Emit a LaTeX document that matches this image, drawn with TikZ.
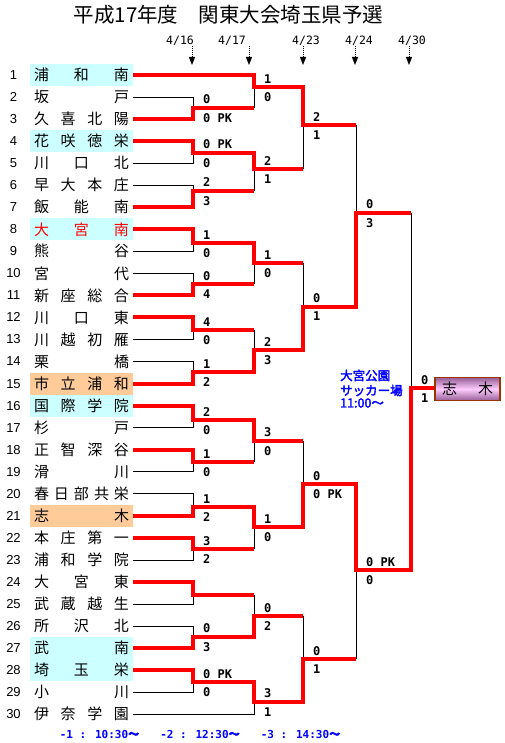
\documentclass[tikz,border=0pt]{standalone}
\usepackage{fontspec}
\usepackage{tikz}
\usetikzlibrary{positioning,arrows.meta}
\newfontfamily\jp{Noto Sans CJK JP}
\newfontfamily\jpb[FakeBold=2.5]{Noto Sans CJK JP}
\newfontfamily\mono{DejaVu Sans Mono}
\newfontfamily\arial{Liberation Sans}
\definecolor{mizu}{RGB}{204,255,255}
\definecolor{dai}{RGB}{255,204,153}
\definecolor{fuchi}{RGB}{153,51,0}
\definecolor{murasaki}{RGB}{150,95,150}
\definecolor{momo}{RGB}{255,204,255}
\definecolor{ao}{RGB}{0,0,255}
% spread the characters of a name over the box
\def\tnstep#1#2{#1\ifx\relax#2\else\hfill\expandafter\tnstep\expandafter#2\fi}
\newcommand\teamname[1]{\makebox[95pt][s]{\tnstep#1\relax}}

\begin{document}
\begin{tikzpicture}[x=1pt,y=-1pt,
  team/.style={minimum width=103pt,minimum height=22pt,inner sep=0pt,font=\jp\fontsize{15}{15}\selectfont},
  num/.style={inner sep=0pt,font=\arial\fontsize{13}{13}\selectfont},
  score/.style={inner sep=0pt,font=\mono\bfseries\fontsize{12}{12}\selectfont},
  up/.style={score,above right=3.5pt and 10pt of #1},
  dn/.style={score,below right=5.5pt and 10pt of #1},
  day/.style={inner sep=0pt,font=\mono\fontsize{11.5}{11.5}\selectfont},
  dayarrow/.style={line width=1pt,dash pattern=on 1pt off 1pt,-{Triangle[width=6pt,length=8pt]}},
  time/.style={inner sep=0pt,text=ao,font=\mono\bfseries\fontsize{11}{11}\selectfont},
  place/.style={inner sep=0pt,anchor=west,text=ao,font=\jpb\fontsize{12.5}{12.5}\selectfont},
  win/.style={draw=red,line width=4pt},
  lose/.style={draw=black,line width=0.8pt}]
\path[fill=white] (0,0) rectangle (504,743);

\node[inner sep=0pt,font=\jp\fontsize{20.5}{20.5}\selectfont] (title) at (228.5,15) {平成17年度　関東大会埼玉県予選};

\node[day] (d1) at (180,41) {4/16};
\node[day] (d2) at (232,41) {4/17};
\node[day] (d3) at (306,41) {4/23};
\node[day] (d4) at (359,41) {4/24};
\node[day] (d5) at (412,41) {4/30};
\coordinate (p1) at (192,65);
\coordinate (p2) at (249,65);
\coordinate (p3) at (303,65);
\coordinate (p4) at (355,65);
\coordinate (p5) at (409,65);
\draw[dayarrow] (d1.south -| p1) -- (p1);
\draw[dayarrow] (d2.south -| p2) -- (p2);
\draw[dayarrow] (d3.south -| p3) -- (p3);
\draw[dayarrow] (d4.south -| p4) -- (p4);
\draw[dayarrow] (d5.south -| p5) -- (p5);

% teams
\node[num] (n1) at (13.5,75) {1};      \node[team,fill=mizu] (t1) at (81.5,75) {\teamname{浦和南}};
\node[num] (n2) at (13.5,97) {2};      \node[team] (t2) at (81.5,97) {\teamname{坂戸}};
\node[num] (n3) at (13.5,119.1) {3};   \node[team] (t3) at (81.5,119.1) {\teamname{久喜北陽}};
\node[num] (n4) at (13.5,141.1) {4};   \node[team,fill=mizu] (t4) at (81.5,141.1) {\teamname{花咲徳栄}};
\node[num] (n5) at (13.5,163.2) {5};   \node[team] (t5) at (81.5,163.2) {\teamname{川口北}};
\node[num] (n6) at (13.5,185.2) {6};   \node[team] (t6) at (81.5,185.2) {\teamname{早大本庄}};
\node[num] (n7) at (13.5,207.2) {7};   \node[team] (t7) at (81.5,207.2) {\teamname{飯能南}};
\node[num] (n8) at (13.5,229.3) {8};   \node[team,fill=mizu,text=red] (t8) at (81.5,229.3) {\teamname{大宮南}};
\node[num] (n9) at (13.5,251.3) {9};   \node[team] (t9) at (81.5,251.3) {\teamname{熊谷}};
\node[num] (n10) at (13.5,273.4) {10}; \node[team] (t10) at (81.5,273.4) {\teamname{宮代}};
\node[num] (n11) at (13.5,295.4) {11}; \node[team] (t11) at (81.5,295.4) {\teamname{新座総合}};
\node[num] (n12) at (13.5,317.4) {12}; \node[team] (t12) at (81.5,317.4) {\teamname{川口東}};
\node[num] (n13) at (13.5,339.5) {13}; \node[team] (t13) at (81.5,339.5) {\teamname{川越初雁}};
\node[num] (n14) at (13.5,361.5) {14}; \node[team] (t14) at (81.5,361.5) {\teamname{栗橋}};
\node[num] (n15) at (13.5,383.6) {15}; \node[team,fill=dai] (t15) at (81.5,383.6) {\teamname{市立浦和}};
\node[num] (n16) at (13.5,405.6) {16}; \node[team,fill=mizu] (t16) at (81.5,405.6) {\teamname{国際学院}};
\node[num] (n17) at (13.5,427.6) {17}; \node[team] (t17) at (81.5,427.6) {\teamname{杉戸}};
\node[num] (n18) at (13.5,449.7) {18}; \node[team] (t18) at (81.5,449.7) {\teamname{正智深谷}};
\node[num] (n19) at (13.5,471.7) {19}; \node[team] (t19) at (81.5,471.7) {\teamname{滑川}};
\node[num] (n20) at (13.5,493.8) {20}; \node[team] (t20) at (81.5,493.8) {\teamname{春日部共栄}};
\node[num] (n21) at (13.5,515.8) {21}; \node[team,fill=dai] (t21) at (81.5,515.8) {\teamname{志木}};
\node[num] (n22) at (13.5,537.8) {22}; \node[team] (t22) at (81.5,537.8) {\teamname{本庄第一}};
\node[num] (n23) at (13.5,559.9) {23}; \node[team] (t23) at (81.5,559.9) {\teamname{浦和学院}};
\node[num] (n24) at (13.5,581.9) {24}; \node[team] (t24) at (81.5,581.9) {\teamname{大宮東}};
\node[num] (n25) at (13.5,604) {25};   \node[team] (t25) at (81.5,604) {\teamname{武蔵越生}};
\node[num] (n26) at (13.5,626) {26};   \node[team] (t26) at (81.5,626) {\teamname{所沢北}};
\node[num] (n27) at (13.5,648) {27};   \node[team,fill=mizu] (t27) at (81.5,648) {\teamname{武南}};
\node[num] (n28) at (13.5,670.1) {28}; \node[team,fill=mizu] (t28) at (81.5,670.1) {\teamname{埼玉栄}};
\node[num] (n29) at (13.5,692.1) {29}; \node[team] (t29) at (81.5,692.1) {\teamname{小川}};
\node[num] (n30) at (13.5,714.2) {30}; \node[team] (t30) at (81.5,714.2) {\teamname{伊奈学園}};

% match points
\coordinate (a1) at (193,107.7);  \coordinate (a2) at (193,152.7);  \coordinate (a3) at (193,190.7);
\coordinate (a4) at (193,242.7);  \coordinate (a5) at (193,284.3);  \coordinate (a6) at (193,330);
\coordinate (a7) at (193,372.3);  \coordinate (a8) at (193,420);    \coordinate (a9) at (193,461.7);
\coordinate (a10) at (193,507.3); \coordinate (a11) at (193,549);   \coordinate (a12) at (193,595);
\coordinate (a13) at (193,636.7); \coordinate (a14) at (193,682.3);
\coordinate (b1) at (254,87.3);   \coordinate (b2) at (254,169.3);  \coordinate (b3) at (254,263.3);
\coordinate (b4) at (254,350);    \coordinate (b5) at (254,440.7);  \coordinate (b6) at (254,526.7);
\coordinate (b7) at (254,616);    \coordinate (b8) at (254,701.7);
\coordinate (c1) at (303,125);    \coordinate (c2) at (303,306.5);  \coordinate (c3) at (303,484);
\coordinate (c4) at (303,659);
\coordinate (e1) at (356,212.7);  \coordinate (e2) at (356,570);
\coordinate (f) at (411,388);

\node[draw=fuchi,line width=1.2pt,top color=murasaki,bottom color=murasaki,middle color=momo,
  minimum width=65pt,minimum height=23pt,inner sep=0pt,font=\jp\fontsize{15}{15}\selectfont]
  (champ) at (467.5,389) {\makebox[51pt][s]{志\hfill 木}};

% black lines
\draw[lose] (t2.east) -| (t3.east -| a1);
\draw[lose] (t5.east) -| (t4.east -| a2);
\draw[lose] (t6.east) -| (t7.east -| a3);
\draw[lose] (t9.east) -| (t8.east -| a4);
\draw[lose] (t10.east) -| (t11.east -| a5);
\draw[lose] (t13.east) -| (t12.east -| a6);
\draw[lose] (t14.east) -| (t15.east -| a7);
\draw[lose] (t17.east) -| (t16.east -| a8);
\draw[lose] (t19.east) -| (t18.east -| a9);
\draw[lose] (t20.east) -| (t21.east -| a10);
\draw[lose] (t23.east) -| (t22.east -| a11);
\draw[lose] (t25.east) -| (t24.east -| a12);
\draw[lose] (t26.east) -| (t27.east -| a13);
\draw[lose] (t29.east) -| (t28.east -| a14);
\draw[lose] (t30.east) -| (a14 -| b8);
\draw[lose] (t1.east -| b1) -- (a1 -| b1);
\draw[lose] (a2 -| b2) -- (a3 -| b2);
\draw[lose] (a4 -| b3) -- (a5 -| b3);
\draw[lose] (a6 -| b4) -- (a7 -| b4);
\draw[lose] (a8 -| b5) -- (a9 -| b5);
\draw[lose] (a10 -| b6) -- (a11 -| b6);
\draw[lose] (a12 -| b7) -- (a13 -| b7);
\draw[lose] (b1 -| c1) -- (b2 -| c1);
\draw[lose] (b3 -| c2) -- (b4 -| c2);
\draw[lose] (b5 -| c3) -- (b6 -| c3);
\draw[lose] (b7 -| c4) -- (b8 -| c4);
\draw[lose] (c1 -| e1) -- (c2 -| e1);
\draw[lose] (c3 -| e2) -- (c4 -| e2);
\draw[lose] (e1 -| f) -- (e2 -| f);

% winners
\draw[win] (t1.east) -| (b1) -| (c1) -- (c1 -| e1);
\draw[win] (t3.east) -| (a1) -- (a1 -| b1);
\draw[win] (t4.east) -| (a2) -| (b2) -- (b2 -| c1);
\draw[win] (t7.east) -| (a3) -- (a3 -| b2);
\draw[win] (t8.east) -| (a4) -| (b3) -- (b3 -| c2);
\draw[win] (t11.east) -| (a5) -- (a5 -| b3);
\draw[win] (t12.east) -| (a6) -- (a6 -| b4);
\draw[win] (t15.east) -| (a7) -| (b4) -| (c2) -| (e1) -- (e1 -| f);
\draw[win] (t16.east) -| (a8) -| (b5) -- (b5 -| c3);
\draw[win] (t18.east) -| (a9) -- (a9 -| b5);
\draw[win] (t21.east) -| (a10) -| (b6) -| (c3) -| (e2) -| (f) -- (f -| champ.west);
\draw[win] (t22.east) -| (a11) -- (a11 -| b6);
\draw[win] (t24.east) -| (a12) -- (a12 -| b7);
\draw[win] (t27.east) -| (a13) -| (b7) -- (b7 -| c4);
\draw[win] (t28.east) -| (a14) -| (b8) -| (c4) -- (c4 -| e2);

% scores
\node[up=a1] (a1u) {0};    \node[dn=a1] (a1d) {0 PK};
\node[up=a2] (a2u) {0 PK}; \node[dn=a2] (a2d) {0};
\node[up=a3] (a3u) {2};    \node[dn=a3] (a3d) {3};
\node[up=a4] (a4u) {1};    \node[dn=a4] (a4d) {0};
\node[up=a5] (a5u) {0};    \node[dn=a5] (a5d) {4};
\node[up=a6] (a6u) {4};    \node[dn=a6] (a6d) {0};
\node[up=a7] (a7u) {1};    \node[dn=a7] (a7d) {2};
\node[up=a8] (a8u) {2};    \node[dn=a8] (a8d) {0};
\node[up=a9] (a9u) {1};    \node[dn=a9] (a9d) {0};
\node[up=a10] (a10u) {1};  \node[dn=a10] (a10d) {2};
\node[up=a11] (a11u) {3};  \node[dn=a11] (a11d) {2};
\node[up=a13] (a13u) {0};  \node[dn=a13] (a13d) {3};
\node[up=a14] (a14u) {0 PK}; \node[dn=a14] (a14d) {0};
\node[up=b1] (b1u) {1};    \node[dn=b1] (b1d) {0};
\node[up=b2] (b2u) {2};    \node[dn=b2] (b2d) {1};
\node[up=b3] (b3u) {1};    \node[dn=b3] (b3d) {0};
\node[up=b4] (b4u) {2};    \node[dn=b4] (b4d) {3};
\node[up=b5] (b5u) {3};    \node[dn=b5] (b5d) {0};
\node[up=b6] (b6u) {1};    \node[dn=b6] (b6d) {0};
\node[up=b7] (b7u) {0};    \node[dn=b7] (b7d) {2};
\node[up=b8] (b8u) {3};    \node[dn=b8] (b8d) {1};
\node[up=c1] (c1u) {2};    \node[dn=c1] (c1d) {1};
\node[up=c2] (c2u) {0};    \node[dn=c2] (c2d) {1};
\node[up=c3] (c3u) {0};    \node[dn=c3] (c3d) {0 PK};
\node[up=c4] (c4u) {0};    \node[dn=c4] (c4d) {1};
\node[up=e1] (e1u) {0};    \node[dn=e1] (e1d) {3};
\node[up=e2] (e2u) {0 PK}; \node[dn=e2] (e2d) {0};
\node[up=f] (fu) {0};      \node[dn=f] (fd) {1};

% venue and kick-off times
\node[place] (v1) at (340,375.5) {大宮公園};
\node[place] (v2) at (340,390.5) {サッカー場};
\node[place] (v3) at (340,403) {11:00～};
\node[time] (k1) at (99.5,734) {-1 : 10:30{\jpb ～}};
\node[time] (k2) at (200,734) {-2 : 12:30{\jpb ～}};
\node[time] (k3) at (300.5,734) {-3 : 14:30{\jpb ～}};
\end{tikzpicture}
\end{document}
